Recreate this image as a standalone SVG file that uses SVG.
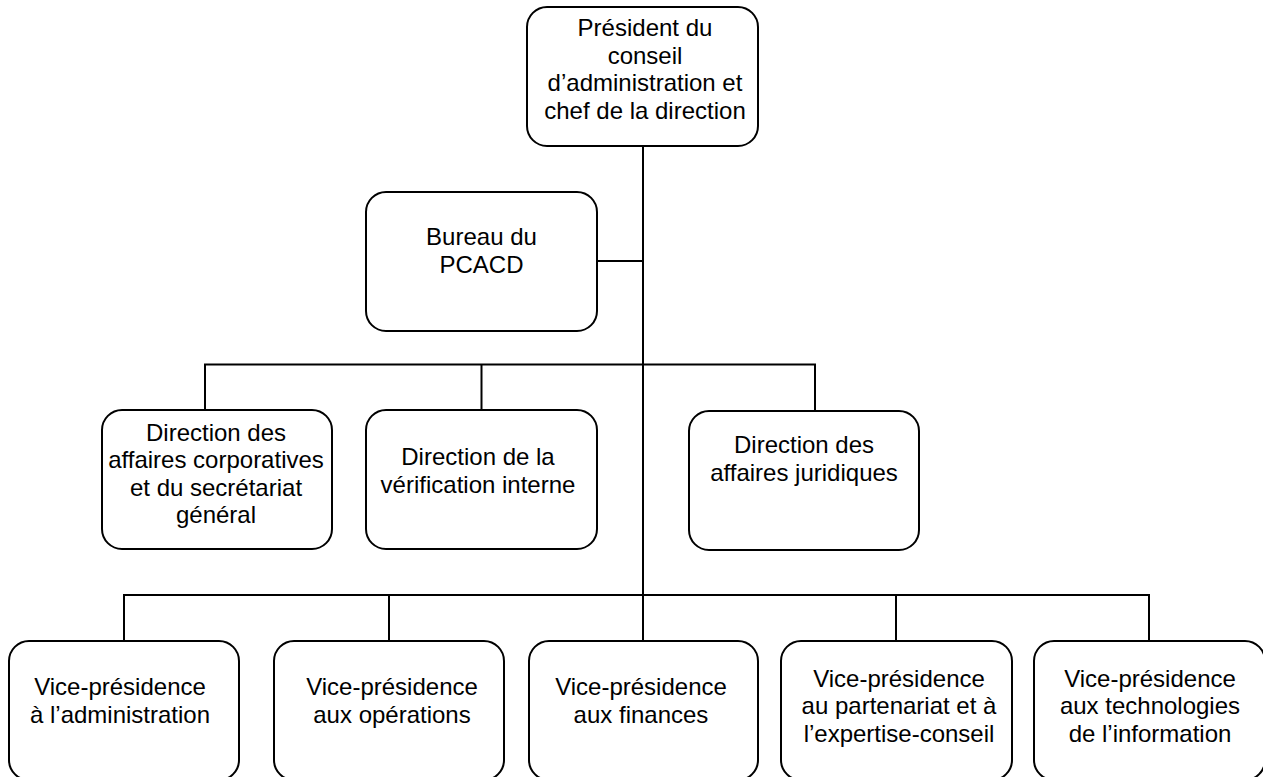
<svg xmlns="http://www.w3.org/2000/svg" width="1263" height="777" viewBox="0 0 1263 777">
<style>
.box{fill:#fff;stroke:#000;stroke-width:2}
.lbl{font-family:"Liberation Sans",Arial,sans-serif;font-size:24px;fill:#000;text-anchor:middle}
.con{fill:none;stroke:#000;stroke-width:2}
</style>
<rect width="1263" height="777" fill="#fff"/>
<g id="connectors">
<path class="con" d="M643,146 V641"/>
<path class="con" d="M597,261 H643"/>
<path class="con" d="M205,410 V364.5 H815 V411"/>
<path class="con" d="M481.5,364.5 V410"/>
<path class="con" d="M124,641 V595 H1149 V641"/>
<path class="con" d="M389,595 V641"/>
<path class="con" d="M896,595 V641"/>
</g>
<g id="n-president">
<rect class="box" x="527" y="7" width="231" height="139" rx="20"/>
<text class="lbl" x="645" y="36">Président du</text>
<text class="lbl" x="645" y="63.5">conseil</text>
<text class="lbl" x="645" y="91">d’administration et</text>
<text class="lbl" x="645" y="118.5">chef de la direction</text>
</g>
<g id="n-bureau">
<rect class="box" x="366" y="192" width="231" height="139" rx="20"/>
<text class="lbl" x="481.5" y="245">Bureau du</text>
<text class="lbl" x="481.5" y="272.5">PCACD</text>
</g>
<g id="n-corpo">
<rect class="box" x="102" y="410" width="230" height="139" rx="20"/>
<text class="lbl" x="216" y="440.5">Direction des</text>
<text class="lbl" x="216" y="468">affaires corporatives</text>
<text class="lbl" x="216" y="495.5">et du secrétariat</text>
<text class="lbl" x="216" y="523">général</text>
</g>
<g id="n-verif">
<rect class="box" x="366" y="410" width="231" height="139" rx="20"/>
<text class="lbl" x="478" y="465">Direction de la</text>
<text class="lbl" x="478" y="492.5">vérification interne</text>
</g>
<g id="n-jur">
<rect class="box" x="689" y="411" width="230" height="139" rx="20"/>
<text class="lbl" x="804" y="453">Direction des</text>
<text class="lbl" x="804" y="480.5">affaires juridiques</text>
</g>
<g id="n-vp-admin">
<rect class="box" x="9" y="641" width="230" height="139" rx="20"/>
<text class="lbl" x="120" y="695">Vice-présidence</text>
<text class="lbl" x="120" y="722.5">à l’administration</text>
</g>
<g id="n-vp-ops">
<rect class="box" x="274" y="641" width="230" height="139" rx="20"/>
<text class="lbl" x="392" y="695">Vice-présidence</text>
<text class="lbl" x="392" y="722.5">aux opérations</text>
</g>
<g id="n-vp-fin">
<rect class="box" x="529" y="641" width="229" height="139" rx="20"/>
<text class="lbl" x="641" y="695">Vice-présidence</text>
<text class="lbl" x="641" y="722.5">aux finances</text>
</g>
<g id="n-vp-part">
<rect class="box" x="781" y="641" width="231" height="139" rx="20"/>
<text class="lbl" x="899" y="686.5">Vice-présidence</text>
<text class="lbl" x="899" y="714">au partenariat et à</text>
<text class="lbl" x="899" y="741.5">l’expertise-conseil</text>
</g>
<g id="n-vp-ti">
<rect class="box" x="1034" y="641" width="231" height="139" rx="20"/>
<text class="lbl" x="1150" y="686.5">Vice-présidence</text>
<text class="lbl" x="1150" y="714">aux technologies</text>
<text class="lbl" x="1150" y="741.5">de l’information</text>
</g>
</svg>
